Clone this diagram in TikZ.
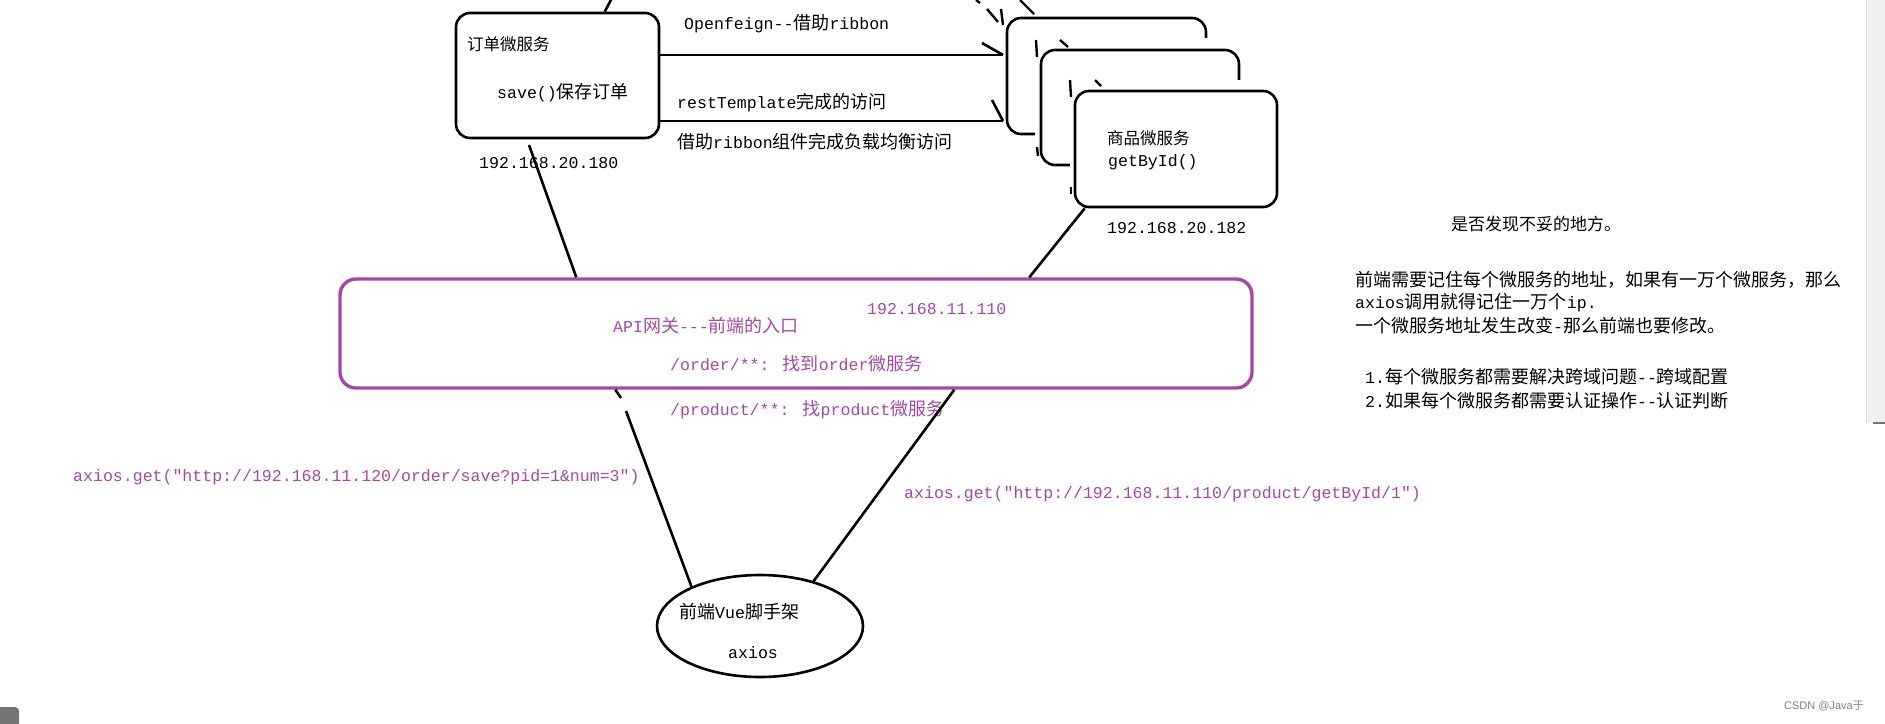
\documentclass[tikz,border=0pt]{standalone}
\usepackage{fontspec}
\newfontfamily\mono{Liberation Mono}[Scale=0.92]
\newfontfamily\zhfont{Noto Sans CJK SC}
\newfontfamily\wmfont{Liberation Sans}
\newcommand\zht[1]{{\zhfont #1}}
\usetikzlibrary{shapes.geometric,calc}
\definecolor{purp}{RGB}{163,73,164}
\begin{document}
\begin{tikzpicture}[x=1pt,y=-1pt,
  box/.style={draw, line width=2.6pt, rounded corners=14pt, fill=white, inner sep=0pt},
  gate/.style={draw=purp, line width=3.4pt, rounded corners=16pt, inner sep=0pt},
  conn/.style={line width=2.6pt},
  stub/.style={line width=2.4pt},
  txt/.style={inner sep=0pt, anchor=west, font=\mono\fontsize{18}{22}\selectfont},
  smalltxt/.style={txt, font=\mono\fontsize{16.5}{20}\selectfont},
  ptxt/.style={txt, text=purp},
]
\useasboundingbox (0,0) rectangle (1885,723);
\clip (0,0) rectangle (1885,723);

% scrollbar strip and corner marks
\fill[black!6] (1866,0) rectangle (1885,423);
\draw[black!15, line width=1pt] (1866,0) -- (1866,423);
\draw[black!55, line width=1.5pt] (1873,423) -- (1885,423);
\fill[black!55, rounded corners=4pt] (-6,707) rectangle (19,730);

% order service
\node[box, minimum width=203, minimum height=125] (order) at (557.5,75.5) {};
\node[smalltxt] (ordt) at (467,44) {\zht{订单微服务}};
\node[txt] (ords) at (497,93) {save()\zht{保存订单}};
\node[txt] (ordip) at (479,163) {192.168.20.180};
\coordinate (t0) at (612,-2);
\draw[conn] (t0) -- ($(order.north west)+(150,0)$);

% product services (stacked copies)
\node[box, minimum width=199, minimum height=116] (p1) at (1106.5,76) {};
\fill[white] (1035,38) rectangle (1243,168);
\node[box, minimum width=198, minimum height=115] (p2) at (1140,107.5) {};
\fill[white] (1070,80) rectangle (1281,210);
\node[box, minimum width=202, minimum height=116] (p3) at (1176,149) {};
\node[smalltxt] (pt) at (1107,138) {\zht{商品微服务}};
\node[txt] (pg) at (1108,162) {getById()};
\node[txt] (pip) at (1107,228) {192.168.20.182};

% stubs left from copied pieces
\draw[stub] (976,0) -- (980,3);
\draw[stub] (987,9) -- (998,22);
\draw[stub] (1001,9) -- (1003,25);
\draw[stub] (1020,0) -- (1034,14);
\draw[stub] (1036,40) -- (1037,57);
\draw[stub] (1060,40) -- (1068,47);
\draw[stub] (1070,80) -- (1071,97);
\draw[stub] (1095,80) -- (1101,86);
\draw[stub] (1037,147) -- (1038,156);
\draw[stub] (1071,187) -- (1071,194);

% order -> product arrows
\coordinate (a1s) at (659,55);
\coordinate (a1e) at (1003,55);
\coordinate (a1b) at (982,43);
\coordinate (a2s) at (659,121);
\coordinate (a2e) at (1003,121);
\coordinate (a2b) at (992,100);
\draw[conn] (a1s) -- (a1e);
\draw[conn] (a1b) -- (a1e);
\draw[conn] (a2s) -- (a2e);
\draw[conn] (a2b) -- (a2e);
\node[txt] (l1) at (684,24) {Openfeign--\zht{借助}ribbon};
\node[txt] (l2) at (677,103) {restTemplate\zht{完成的访问}};
\node[txt] (l3) at (677,142) {\zht{借助}ribbon\zht{组件完成负载均衡访问}};

% gateway
\node[gate, minimum width=912, minimum height=109] (gw) at (796,333.5) {};
\node[ptxt] (gip) at (867,309) {192.168.11.110};
\node[ptxt] (gt) at (613,326) {API\zht{网关}---\zht{前端的入口}};
\node[ptxt] (go) at (670,364) {/order/**: \zht{找到}order\zht{微服务}};
\node[ptxt] (gp) at (670,410) {/product/**: \zht{找}product\zht{微服务}};

% connectors to gateway
\coordinate (o1) at (529,145);
\draw[conn] (o1) -- ($(gw.north west)+(238,0)$);
\draw[conn] ($(p3.south west)+(11,0)$) -- ($(gw.north west)+(691,0)$);

% front end
\node[draw, ellipse, line width=2.6pt, minimum width=206, minimum height=102, inner sep=0pt] (vue) at (760,626) {};
\node[txt] (vt) at (679,612) {\zht{前端}Vue\zht{脚手架}};
\node[txt] (va) at (728,653) {axios};

\coordinate (v1) at (692,588);
\coordinate (v2) at (813,582);
\coordinate (g1a) at (621,398);
\coordinate (g1b) at (626,411);
\draw[conn] ($(gw.south west)+(277,0)$) -- (g1a);
\draw[conn] (g1b) -- (v1);
\draw[conn] ($(gw.south west)+(616,0)$) -- (v2);

\node[ptxt] (ax1) at (73,477) {axios.get("http://192.168.11.120/order/save?pid=1\&num=3")};
\node[ptxt] (ax2) at (904,494) {axios.get("http://192.168.11.110/product/getById/1")};

% notes
\node[txt, font=\mono\fontsize{17}{20}\selectfont] (n0) at (1451,224) {\zht{是否发现不妥的地方。}};
\node[txt] (n1) at (1355,280) {\zht{前端需要记住每个微服务的地址，如果有一万个微服务，那么}};
\node[txt] (n2) at (1355,303) {axios\zht{调用就得记住一万个}ip.};
\node[txt] (n3) at (1355,326) {\zht{一个微服务地址发生改变}-\zht{那么前端也要修改。}};
\node[txt] (n4) at (1365,377) {1.\zht{每个微服务都需要解决跨域问题}--\zht{跨域配置}};
\node[txt] (n5) at (1365,401) {2.\zht{如果每个微服务都需要认证操作}--\zht{认证判断}};

% watermark
\node[anchor=west, inner sep=0pt, text=black!50, font=\wmfont\fontsize{11}{13}\selectfont] (wm) at (1784,706) {CSDN @Java\zht{于}};
\end{tikzpicture}
\end{document}
